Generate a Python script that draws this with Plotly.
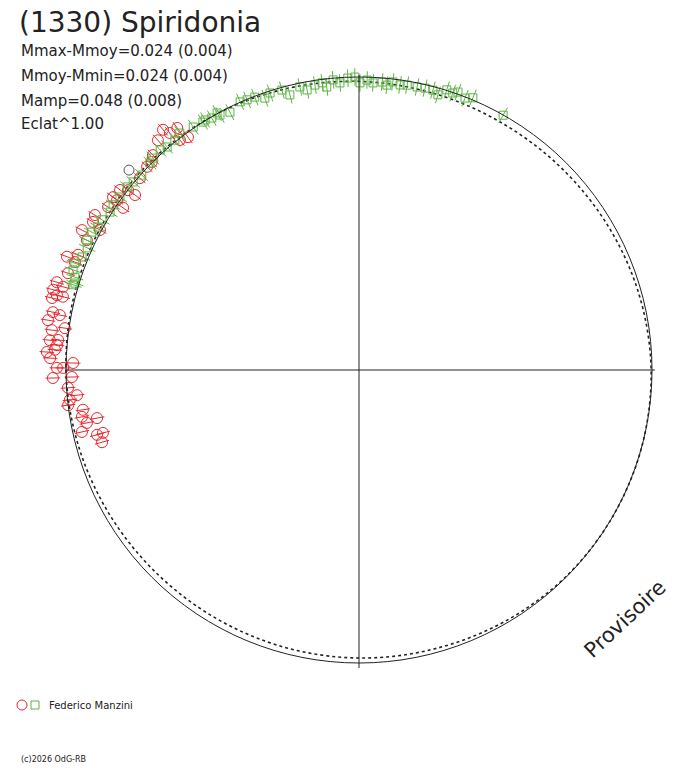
import numpy as np
import plotly.graph_objects as go

# rotational phase (deg, clockwise from top) and relative brightness radius
red_phase = [320.8, 323.1, 318.8, 322.1, 323.7, 321.4, 316.2, 315.1, 313.8, 311.2,
             307.9, 308.0, 305.1, 307.0, 305.1, 303.0, 304.5, 300.4, 299.1, 298.4,
             296.8, 295.5, 292.3, 291.2, 290.8, 288.4, 286.2, 284.7, 285.7, 283.9,
             283.2, 283.9, 280.7, 280.4, 279.1, 277.4, 278.1, 275.5, 275.7, 274.7,
             273.3, 272.2, 273.8, 271.4, 270.4, 270.4, 268.5, 268.6, 266.5, 264.9,
             264.1, 263.1, 261.8, 260.4, 259.6, 259.0, 257.4, 256.1, 256.2, 254.3]
red_r = [1.058, 1.033, 1.042, 0.995, 0.986, 1.035, 1.016, 1.002, 1.002, 0.994,
         0.999, 0.970, 1.026, 1.021, 1.009, 1.021, 0.977, 1.045, 1.039, 1.005,
         1.059, 1.029, 1.036, 1.069, 1.037, 1.047, 1.074, 1.079, 1.049, 1.062,
         1.076, 1.041, 1.063, 1.038, 1.075, 1.057, 1.014, 1.060, 1.032, 1.034,
         1.067, 1.055, 1.040, 0.976, 1.010, 1.031, 1.045, 0.980, 0.995, 0.966,
         0.992, 1.000, 0.952, 0.959, 0.909, 0.946, 0.969, 0.921, 0.900, 0.911]

green_phase = [331.1, 328.4, 329.7, 325.7, 322.9, 321.3, 319.3, 317.9, 315.8, 314.7,
               311.9, 309.8, 308.3, 305.9, 303.9, 302.4, 300.3, 298.7, 297.3, 295.5,
               294.2, 292.2, 290.6, 289.3, 288.1, 286.6, 287.0, 327.8, 331.4, 333.4,
               336.1, 337.5, 339.1, 340.9, 342.2, 344.6, 345.9, 348.2, 349.5, 351.2,
               352.7, 353.5, 354.9, 356.2, 357.8, 359.2, 0.2, 1.6, 2.8, 4.6,
               5.6, 6.7, 8.2, 9.6, 11.6, 13.2, 14.8, 16.0, 17.4, 18.7,
               19.6, 21.3, 22.7, 29.5]
green_r = [1.002, 1.002, 0.996, 1.004, 1.014, 1.005, 1.004, 1.012, 1.009, 1.004,
           0.996, 1.003, 1.008, 1.007, 1.011, 1.006, 1.016, 1.016, 1.026, 1.029,
           1.017, 1.021, 1.036, 1.034, 1.020, 1.018, 1.014, 1.000, 0.991, 0.984,
           1.001, 0.998, 0.997, 0.982, 0.993, 0.991, 0.968, 0.987, 0.972, 0.984,
           0.988, 0.972, 0.994, 0.982, 0.997, 1.000, 0.980, 0.990, 0.981, 0.986,
           0.977, 0.990, 0.983, 0.986, 0.986, 0.988, 0.988, 0.977, 1.002, 0.998,
           1.007, 0.996, 1.007, 0.999]

other_phase = [311.0]
other_r = [1.040]

model_phase = list(range(0, 361, 15))
model_r = [0.985, 0.978, 0.974, 0.976, 0.982, 0.990, 0.997, 1.000, 1.000, 0.998, 0.992, 0.986,
           0.983, 0.980, 0.978, 0.979, 0.984, 0.992, 1.000, 1.005, 1.007, 1.006, 1.000, 0.992, 0.985]

red_err = 0.025
green_err = 0.03

W, H = 688, 768
CX, CY, S = 359.0, 370.0, 293.0  # centre of the disc on the page and its radius, px


def xy(phase, r):
    t = np.radians(np.asarray(phase, float))
    r = np.asarray(r, float)
    return r * np.sin(t), r * np.cos(t)


def radial_bars(phase, r, e):
    xs, ys = [], []
    for p, rr in zip(phase, r):
        x0, y0 = xy(p, rr - e)
        x1, y1 = xy(p, rr + e)
        xs += [float(x0), float(x1), None]
        ys += [float(y0), float(y1), None]
    return xs, ys


red = "#e8282d"
green = "#5cb544"
ink = "#222222"

fig = go.Figure()

mx, my = xy(model_phase, model_r)
fig.add_trace(go.Scatter(x=mx, y=my, mode="lines", line=dict(color=ink, width=1.6, dash="dot", shape="spline")))

bx, by = radial_bars(red_phase, red_r, red_err)
fig.add_trace(go.Scatter(x=bx, y=by, mode="lines", line=dict(color=red, width=1)))
rx, ry = xy(red_phase, red_r)
fig.add_trace(go.Scatter(x=rx, y=ry, mode="markers",
                         marker=dict(symbol="circle-open", size=11, color=red, line=dict(width=1))))

bx, by = radial_bars(green_phase, green_r, green_err)
fig.add_trace(go.Scatter(x=bx, y=by, mode="lines", line=dict(color=green, width=1)))
gx, gy = xy(green_phase, green_r)
fig.add_trace(go.Scatter(x=gx, y=gy, mode="markers",
                         marker=dict(symbol="square-open", size=8, color=green, line=dict(width=1))))

ox, oy = xy(other_phase, other_r)
fig.add_trace(go.Scatter(x=ox, y=oy, mode="markers",
                         marker=dict(symbol="circle-open", size=10, color="#555555", line=dict(width=1))))

fig.add_shape(type="circle", x0=-1, y0=-1, x1=1, y1=1, line=dict(color=ink, width=1))
fig.add_shape(type="line", x0=0, x1=0, y0=-1.017, y1=1.007, line=dict(color=ink, width=1))
fig.add_shape(type="line", x0=-1.003, x1=1.01, y0=0, y1=0, line=dict(color=ink, width=1))


def px(x):
    return x / W


def py(y):
    return 1 - y / H


# legend symbols
fig.add_shape(type="circle", xref="paper", yref="paper", x0=px(17), x1=px(27), y0=py(710), y1=py(700),
              line=dict(color=red, width=1))
fig.add_shape(type="rect", xref="paper", yref="paper", x0=px(31), x1=px(39), y0=py(709), y1=py(701),
              line=dict(color=green, width=1))

font = "DejaVu Sans"


def label(text, x, y, size, angle=0, anchor="left"):
    fig.add_annotation(text=text, xref="paper", yref="paper", x=px(x), y=py(y), xanchor=anchor,
                       yanchor="middle", showarrow=False, textangle=angle,
                       font=dict(family=font, size=size, color=ink))


label("(1330) Spiridonia", 17, 22, 28)
label("Mmax-Mmoy=0.024 (0.004)", 19, 51, 15)
label("Mmoy-Mmin=0.024 (0.004)", 19, 76, 15)
label("Mamp=0.048 (0.008)", 19, 101, 15)
label("Eclat^1.00", 19, 124, 15)
label("Provisoire", 625, 619, 21, angle=-43, anchor="center")
label("Federico Manzini", 47, 705, 10)
label("(c)2026 OdG-RB", 19, 759, 8)

fig.update_layout(width=W, height=H, margin=dict(l=0, r=0, t=0, b=0), showlegend=False,
                  plot_bgcolor="white", paper_bgcolor="white")
fig.update_xaxes(range=[-CX / S, (W - CX) / S], visible=False)
fig.update_yaxes(range=[-(H - CY) / S, CY / S], visible=False)
# drop the browser's default body margin so the figure fills the window
fig.write_html("out.html", config={"displayModeBar": False},
               post_script="document.body.style.margin='0';document.body.style.overflow='hidden';")
